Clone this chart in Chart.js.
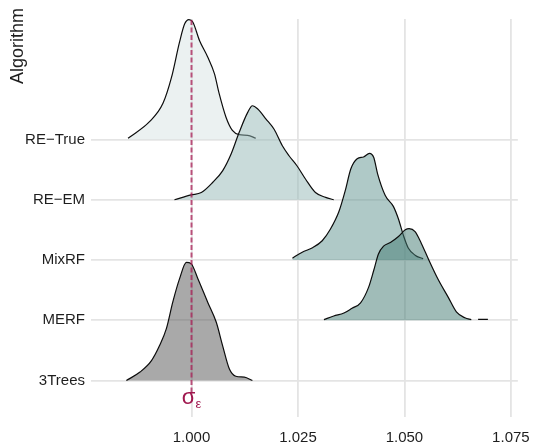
<!DOCTYPE html>
<html>
<head>
<meta charset="utf-8">
<script src="https://cdn.jsdelivr.net/npm/chart.js@4"></script>
<style>
  html, body { margin: 0; padding: 0; background: #fff; }
  #wrap { width: 542px; height: 443px; }
</style>
</head>
<body>
<div id="wrap"><canvas id="chart"></canvas></div>
<script>
// rows from bottom to top
const algorithms = ['3Trees', 'MERF', 'MixRF', 'RE\u2212EM', 'RE\u2212True'];
const xTicks = [1.000, 1.025, 1.050, 1.075];
const sigmaEps = 1.0;

// density outlines (height in row units above each baseline)
const reTrueX = [0.9851, 0.9902, 0.9933, 0.9953, 0.9972, 0.9984, 0.9994, 1.0003, 1.0019, 1.0038, 1.0054, 1.0065, 1.0081, 1.0096, 1.0112, 1.0132, 1.0151];
const reTrueD = [0.02, 0.30, 0.60, 1.03, 1.62, 1.92, 1.99, 1.95, 1.64, 1.37, 1.09, 0.76, 0.37, 0.15, 0.08, 0.07, 0.02];

const reEmX = [0.9960, 0.9999, 1.0023, 1.0050, 1.0073, 1.0093, 1.0112, 1.0132, 1.0143, 1.0155, 1.0175, 1.0194, 1.0213, 1.0229, 1.0248, 1.0268, 1.0291, 1.0315, 1.0334];
const reEmD = [0, 0.08, 0.12, 0.29, 0.48, 0.76, 1.12, 1.45, 1.56, 1.51, 1.34, 1.17, 0.90, 0.73, 0.56, 0.34, 0.12, 0.04, 0];

const mixRfX = [1.0237, 1.0260, 1.0283, 1.0307, 1.0326, 1.0346, 1.0361, 1.0374, 1.0389, 1.0404, 1.0418, 1.0428, 1.0437, 1.0455, 1.0474, 1.0486, 1.0498, 1.0509, 1.0525, 1.0544];
const mixRfD = [0.03, 0.13, 0.20, 0.32, 0.51, 0.80, 1.15, 1.51, 1.68, 1.71, 1.77, 1.70, 1.43, 1.07, 0.89, 0.68, 0.40, 0.20, 0.08, 0.02];

const merfX = [1.0311, 1.0334, 1.0358, 1.0377, 1.0397, 1.0416, 1.0428, 1.0439, 1.0451, 1.0467, 1.0486, 1.0502, 1.0511, 1.0525, 1.0540, 1.0556, 1.0579, 1.0603, 1.0622, 1.0642, 1.0657];
const merfD = [0.01, 0.07, 0.12, 0.20, 0.29, 0.55, 0.83, 1.10, 1.23, 1.29, 1.39, 1.50, 1.52, 1.47, 1.27, 1.02, 0.68, 0.38, 0.14, 0.04, 0.01];
const merfTailX = [1.0673, 1.0696];
const merfTailD = [0.015, 0.015];

const threeTreesX = [0.9847, 0.9879, 0.9906, 0.9925, 0.9941, 0.9956, 0.9972, 0.9988, 0.9999, 1.0015, 1.0038, 1.0058, 1.0073, 1.0089, 1.0104, 1.0124, 1.0143];
const threeTreesD = [0, 0.14, 0.33, 0.58, 0.86, 1.30, 1.69, 1.96, 1.94, 1.69, 1.30, 0.97, 0.58, 0.19, 0.07, 0.055, 0];

const gridColor = '#e4e4e4';
const textColor = '#1e1e1e';
const sigmaColor = '#a0184f';

function ridge(xs, ds, base) {
  return xs.map((x, i) => ({ x: x, y: base + ds[i] }));
}

function ridgeSet(xs, ds, row, fill) {
  return {
    data: ridge(xs, ds, row),
    borderColor: '#0d0d0d',
    borderWidth: 1.2,
    backgroundColor: fill,
    fill: { value: row },
    pointRadius: 0,
    cubicInterpolationMode: 'monotone'
  };
}

// datasets with lower index draw on top, as in the ridgeline (lower rows over upper)
const datasets = [
  {
    data: [{ x: sigmaEps, y: 0.8 }, { x: sigmaEps, y: 7 }],
    borderColor: 'rgba(170, 30, 85, 0.75)',
    borderWidth: 2,
    borderDash: [5, 2.5],
    pointRadius: 0,
    fill: false,
    order: -1
  },
  ridgeSet(threeTreesX, threeTreesD, 1, 'rgba(83, 83, 83, 0.5)'),
  ridgeSet(merfX, merfD, 2, 'rgba(65, 121, 113, 0.5)'),
  {
    data: ridge(merfTailX, merfTailD, 2),
    borderColor: '#0d0d0d',
    borderWidth: 1.2,
    pointRadius: 0,
    fill: false
  },
  ridgeSet(mixRfX, mixRfD, 3, 'rgba(95, 147, 143, 0.5)'),
  ridgeSet(reEmX, reEmD, 4, 'rgba(147, 183, 181, 0.5)'),
  ridgeSet(reTrueX, reTrueD, 5, 'rgba(215, 227, 227, 0.5)')
];

const labelsPlugin = {
  id: 'ridgeLabels',
  afterDraw(chart) {
    const ctx = chart.ctx;
    const xs = chart.scales.x;
    const ys = chart.scales.y;
    ctx.save();
    // axis title, right-aligned to the top like the ggridges theme
    ctx.translate(23, 8);
    ctx.rotate(-Math.PI / 2);
    ctx.font = '18px "Liberation Sans", Arial, sans-serif';
    ctx.fillStyle = textColor;
    ctx.textAlign = 'right';
    ctx.textBaseline = 'alphabetic';
    ctx.fillText('Algorithm', 0, 0);
    ctx.restore();

    // sigma epsilon annotation
    ctx.save();
    const px = xs.getPixelForValue(sigmaEps);
    const py = ys.getPixelForValue(0.7);
    ctx.fillStyle = sigmaColor;
    ctx.textBaseline = 'alphabetic';
    ctx.textAlign = 'left';
    ctx.font = '22px "Liberation Sans", Arial, sans-serif';
    const sw = ctx.measureText('\u03c3').width;
    ctx.font = '13px "Liberation Sans", Arial, sans-serif';
    const ew = ctx.measureText('\u03b5').width;
    const left = px - (sw + ew) / 2;
    ctx.font = '22px "Liberation Sans", Arial, sans-serif';
    ctx.fillText('\u03c3', left, py + 5);
    ctx.font = '13px "Liberation Sans", Arial, sans-serif';
    ctx.fillText('\u03b5', left + sw, py + 9);
    ctx.restore();
  }
};

new Chart(document.getElementById('chart'), {
  type: 'line',
  data: { datasets: datasets },
  plugins: [labelsPlugin],
  options: {
    responsive: true,
    maintainAspectRatio: false,
    animation: false,
    events: [],
    layout: {
      padding: { top: 19, right: 21, left: 0, bottom: 0 }
    },
    plugins: {
      legend: { display: false },
      tooltip: { enabled: false }
    },
    scales: {
      x: {
        type: 'linear',
        min: 0.9764,
        max: 1.07663,
        afterBuildTicks: (scale) => {
          scale.ticks = xTicks.map(v => ({ value: v }));
        },
        afterFit: (scale) => { scale.height = 26; },
        border: { display: false },
        grid: { color: gridColor, lineWidth: 1.8, drawTicks: false },
        ticks: {
          padding: 12,
          color: textColor,
          font: { family: '"Liberation Sans", Arial, sans-serif', size: 15 },
          callback: (value) => value.toFixed(3)
        }
      },
      y: {
        type: 'linear',
        min: 0.394,
        max: 7,
        afterBuildTicks: (scale) => {
          scale.ticks = algorithms.map((_, i) => ({ value: i + 1 }));
        },
        afterFit: (scale) => { scale.width = 91; },
        border: { display: false },
        grid: { color: gridColor, lineWidth: 1.8, drawTicks: false },
        ticks: {
          padding: 6,
          color: textColor,
          font: { family: '"Liberation Sans", Arial, sans-serif', size: 15 },
          callback: (value) => algorithms[Math.round(value) - 1] || ''
        }
      }
    }
  }
});
</script>
</body>
</html>
